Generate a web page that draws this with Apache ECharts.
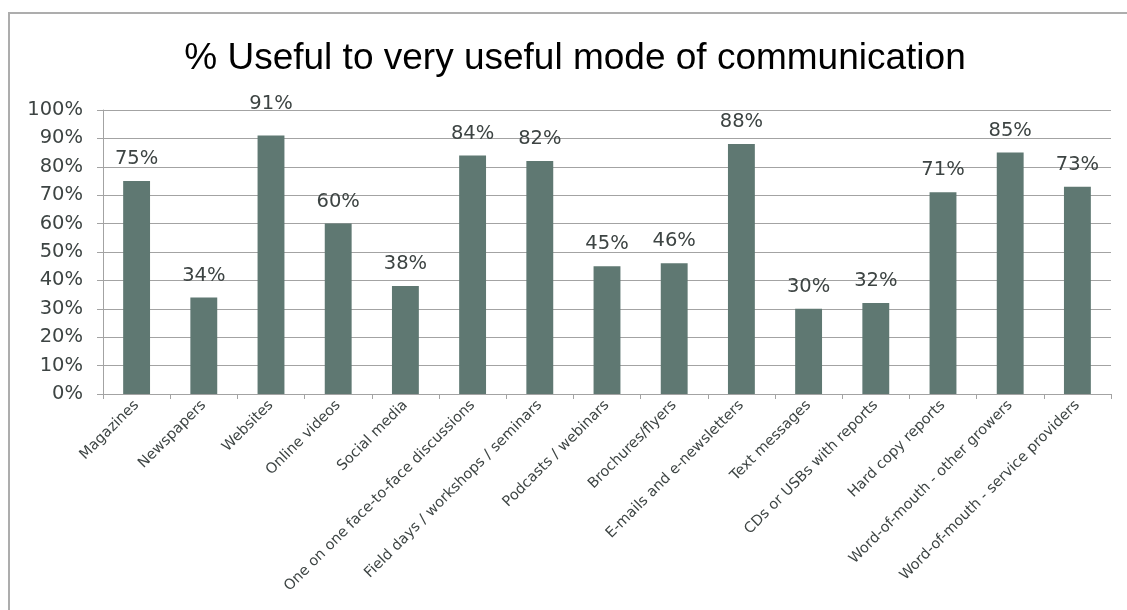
<!DOCTYPE html>
<html>
<head>
<meta charset="utf-8">
<title>% Useful to very useful mode of communication</title>
<script src="https://cdn.jsdelivr.net/npm/echarts@6/dist/echarts.min.js"></script>
<style>
  html, body { margin: 0; padding: 0; background: #ffffff; }
  #chart { width: 1127px; height: 610px; }
</style>
</head>
<body>
<div id="chart"></div>
<script>
// Communication channels rated by respondents
const categories = [
  'Magazines',
  'Newspapers',
  'Websites',
  'Online videos',
  'Social media',
  'One on one face-to-face discussions',
  'Field days / workshops / seminars',
  'Podcasts / webinars',
  'Brochures/flyers',
  'E-mails and e-newsletters',
  'Text messages',
  'CDs or USBs with reports',
  'Hard copy reports',
  'Word-of-mouth - other growers',
  'Word-of-mouth - service providers'
];

// Share of respondents rating each mode useful to very useful (%)
const usefulPct = [75, 34, 91, 60, 38, 84, 82, 45, 46, 88, 30, 32, 71, 85, 73];

// Value axis ticks (%)
const yMin = 0;
const yMax = 100;
const yStep = 10;

const titleText = '% Useful to very useful mode of communication';

const textColor = '#3d4443';
const gridColor = '#a3a3a3';
const barColor = '#5f7872';
const labelFont = '"DejaVu Sans", Verdana, sans-serif';

// The tallest bar's label is lifted clear of the 100% gridline
const barData = usefulPct.map((v) => {
  const item = { value: v };
  if (v === Math.max(...usefulPct)) {
    item.label = { offset: [0, -10] };
  }
  return item;
});

const chart = echarts.init(document.getElementById('chart'), null, { renderer: 'canvas' });

chart.setOption({
  backgroundColor: '#ffffff',
  animation: false,
  graphic: [
    {
      type: 'rect',
      shape: { x: 9, y: 13, width: 1300, height: 800 },
      style: { fill: 'none', stroke: '#adadad', lineWidth: 2 },
      silent: true,
      z: 0
    },
    {
      type: 'text',
      x: 575,
      y: 40,
      style: {
        text: titleText,
        textAlign: 'center',
        textVerticalAlign: 'top',
        font: '37px "Liberation Sans", Arial, sans-serif',
        fill: '#000000'
      }
    }
  ],
  grid: {
    left: 103,
    right: 16,
    top: 110,
    bottom: 216,
    containLabel: false
  },
  xAxis: {
    type: 'category',
    data: categories,
    axisLine: { show: true, lineStyle: { color: gridColor, width: 1 } },
    axisTick: { show: true, length: 5, alignWithLabel: false, lineStyle: { color: gridColor } },
    axisLabel: {
      rotate: 45,
      interval: 0,
      margin: 9,
      color: textColor,
      fontSize: 14.5,
      fontFamily: labelFont
    },
    splitLine: { show: false }
  },
  yAxis: {
    type: 'value',
    min: yMin,
    max: yMax,
    interval: yStep,
    axisLine: { show: true, lineStyle: { color: gridColor, width: 1 } },
    axisTick: { show: true, length: 6, lineStyle: { color: gridColor } },
    axisLabel: {
      formatter: '{value}%',
      margin: 20,
      color: textColor,
      fontSize: 19.5,
      fontFamily: labelFont
    },
    splitLine: { show: true, lineStyle: { color: gridColor, width: 1 } }
  },
  series: [
    {
      type: 'bar',
      data: barData,
      barWidth: '40%',
      itemStyle: { color: barColor },
      label: {
        show: true,
        position: 'top',
        distance: 12,
        formatter: '{c}%',
        color: textColor,
        fontSize: 19.5,
        fontFamily: labelFont
      }
    }
  ]
});
</script>
</body>
</html>
